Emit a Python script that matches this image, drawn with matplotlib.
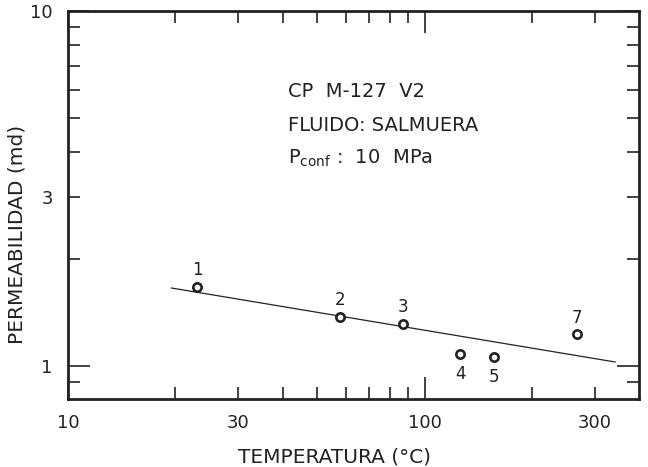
import matplotlib
matplotlib.use("Agg")
import matplotlib.pyplot as plt
from matplotlib.ticker import FixedLocator, FixedFormatter, FuncFormatter

# measured points (temperature in C, permeability in md)
temperature = [23, 58, 87, 126, 156, 267]
permeability = [1.673, 1.378, 1.315, 1.078, 1.057, 1.228]
sample_id = ["1", "2", "3", "4", "5", "7"]
id_below = [False, False, False, True, True, False]

# trend line end points
trend_temp = [19.5, 342]
trend_perm = [1.658, 1.026]

x_major = [10, 100]
x_minor = [20, 30, 40, 50, 60, 70, 80, 90, 200, 300]
x_minor_labels = {30: "30", 300: "300"}
y_major = [1, 10]
y_minor = [0.9, 2, 3, 4, 5, 6, 7, 8, 9]
y_minor_labels = {3: "3"}

ink = "#222222"
plt.rcParams["font.family"] = "DejaVu Sans"

fig = plt.figure(figsize=(6.48, 4.67), dpi=100)
ax = fig.add_axes([68 / 648, 1 - 399 / 467, 571 / 648, 388 / 467])

ax.set_xscale("log")
ax.set_yscale("log")
ax.set_xlim(10, 399)
ax.set_ylim(0.807, 10)

ax.plot(trend_temp, trend_perm, color=ink, lw=0.9)
ax.plot(temperature, permeability, "o", ms=6, mfc="white", mec=ink, mew=1.9)

for t, p, s, below in zip(temperature, permeability, sample_id, id_below):
    dy = -14 if below else 12
    ax.annotate(s, (t, p), xytext=(0, dy), textcoords="offset points",
                ha="center", va="center", fontsize=12, color=ink)

ax.xaxis.set_major_locator(FixedLocator(x_major))
ax.xaxis.set_minor_locator(FixedLocator(x_minor))
ax.xaxis.set_major_formatter(FixedFormatter(["10", "100"]))
ax.xaxis.set_minor_formatter(FuncFormatter(lambda v, pos: x_minor_labels.get(int(round(v)), "")))
ax.yaxis.set_major_locator(FixedLocator(y_major))
ax.yaxis.set_minor_locator(FixedLocator(y_minor))
ax.yaxis.set_major_formatter(FixedFormatter(["1", "10"]))
ax.yaxis.set_minor_formatter(FuncFormatter(lambda v, pos: y_minor_labels.get(int(round(v)), "") if v >= 1 else ""))

ax.tick_params(which="both", direction="in", top=True, right=True,
               width=1.2, color=ink, labelcolor=ink, labelsize=13, pad=11)
ax.tick_params(which="major", length=16)
ax.tick_params(which="minor", length=8.5)
for sp in ax.spines.values():
    sp.set_linewidth(2.0)
    sp.set_color(ink)

ax.text(0.385, 0.779, "CP  M-127  V2", transform=ax.transAxes,
        fontsize=14, color=ink, va="baseline")
ax.text(0.385, 0.6915, "FLUIDO: SALMUERA", transform=ax.transAxes,
        fontsize=14, color=ink, va="baseline")
ax.text(0.385, 0.6075, r"P$_{\mathrm{conf}}$ :  10  MPa", transform=ax.transAxes,
        fontsize=14, color=ink, va="baseline")

ax.set_xlabel("TEMPERATURA (°C)", fontsize=14.5, color=ink)
ax.xaxis.set_label_coords((334 - 68) / 571, -0.124)
ax.set_ylabel("PERMEABILIDAD (md)", fontsize=14.5, color=ink)
ax.yaxis.set_label_coords(-0.072, 0.423)

fig.savefig("out.png", dpi=100)
